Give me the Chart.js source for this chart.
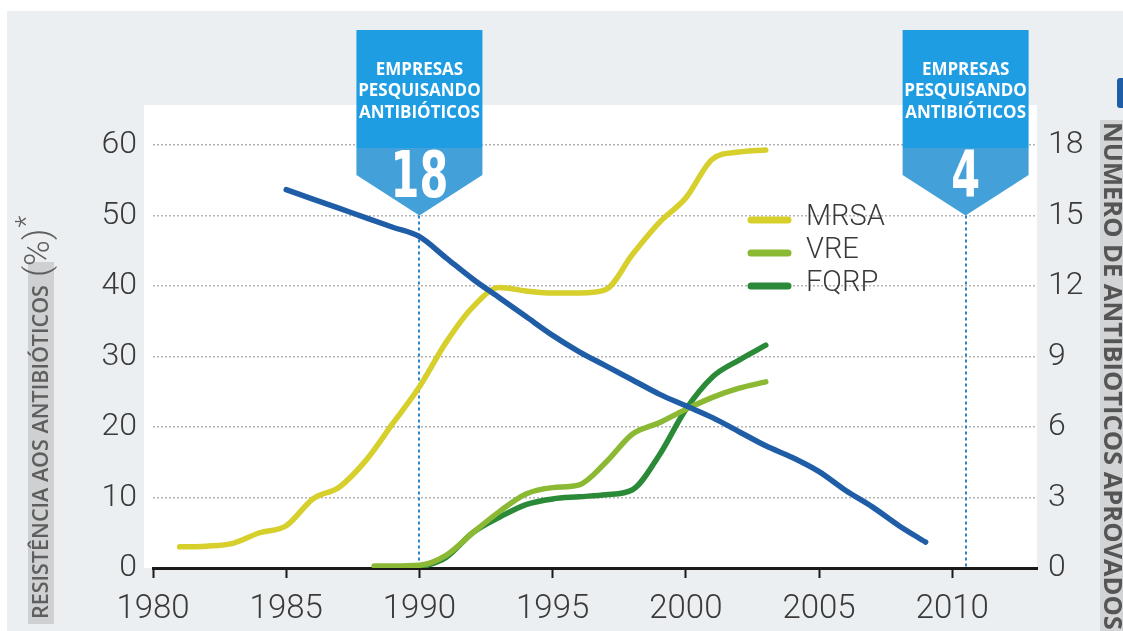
<!DOCTYPE html>
<html lang="pt">
<head>
<meta charset="utf-8">
<title>Resistência aos antibióticos</title>
<script src="https://cdn.jsdelivr.net/npm/chart.js@4.4.1/dist/chart.umd.min.js"></script>
<style>
  html, body { margin: 0; padding: 0; background: #fff; }
  canvas { display: block; }
</style>
</head>
<body>
<canvas id="chart" width="1123" height="631"></canvas>
<script>
// tick values for the three axes
const xTicks = [1980, 1985, 1990, 1995, 2000, 2005, 2010];
const pctTicks = [0, 10, 20, 30, 40, 50, 60];
const countTicks = [0, 3, 6, 9, 12, 15, 18];

// new antibiotics approved (right axis)
const approvedYears = [1985, 1986, 1987, 1988, 1989, 1990, 1991, 1992, 1993, 1994, 1995, 1996,
  1997, 1998, 1999, 2000, 2001, 2002, 2003, 2004, 2005, 2006, 2007, 2008, 2009];
const approvedCounts = [16.1, 15.7, 15.3, 14.9, 14.5, 14.1, 13.2, 12.3, 11.5, 10.7, 9.9, 9.2,
  8.6, 8.0, 7.4, 6.9, 6.4, 5.8, 5.2, 4.7, 4.1, 3.3, 2.6, 1.8, 1.1];

// resistance, % (left axis)
const mrsaYears = [1981, 1982, 1983, 1984, 1985, 1986, 1987, 1988, 1989, 1990, 1991, 1992,
  1993, 1994, 1995, 1996, 1997, 1998, 1999, 2000, 2001, 2002, 2003];
const mrsaPct = [3.0, 3.1, 3.5, 5.0, 6.0, 9.8, 11.5, 15.3, 20.5, 25.7, 32.0, 37.0,
  39.8, 39.3, 39.0, 39.0, 39.5, 44.5, 49.0, 52.5, 58.0, 59.0, 59.3];

const vreYears = [1988.3, 1989, 1990, 1991, 1992, 1993, 1994, 1995, 1996, 1997, 1998,
  1999, 2000, 2001, 2002, 2003];
const vrePct = [0.3, 0.3, 0.4, 1.8, 5.0, 8.0, 10.5, 11.4, 11.8, 15.0, 19.0,
  20.6, 22.5, 24.2, 25.5, 26.4];

const fqrpYears = [1990, 1991, 1992, 1993, 1994, 1995, 1996, 1997, 1998, 1999, 2000,
  2001, 2002, 2003];
const fqrpPct = [0, 1.5, 5.0, 7.2, 9.0, 9.8, 10.1, 10.4, 11.1, 16.0, 22.5,
  27.1, 29.5, 31.6];

// companies researching antibiotics
const calloutYears = [1990, 2010.5];
const calloutCounts = ['18', '4'];
const calloutLines = ['EMPRESAS', 'PESQUISANDO', 'ANTIBIÓTICOS'];

const LIGHT = "Roboto, 'Liberation Sans', sans-serif";
const COND = "'DejaVu Sans Condensed', 'Liberation Sans', sans-serif";
const SANS = "'Open Sans', 'Noto Sans', sans-serif";

const toPoints = (xs, ys) => xs.map((x, i) => ({ x, y: ys[i] }));

const line = (label, xs, ys, color, axis) => ({
  label,
  data: toPoints(xs, ys),
  yAxisID: axis,
  borderColor: color,
  backgroundColor: color,
  borderWidth: 5.5,
  borderCapStyle: 'round',
  borderJoinStyle: 'round',
  pointRadius: 0,
  cubicInterpolationMode: 'monotone',
  fill: false,
});

const decor = {
  id: 'decor',
  beforeDraw(chart) {
    const { ctx, chartArea: a, width, height } = chart;
    ctx.save();
    ctx.fillStyle = '#fff';
    ctx.fillRect(0, 0, width, height);
    ctx.fillStyle = '#eceff1';
    ctx.fillRect(7, 11, width - 7, height - 11);
    ctx.fillStyle = '#fff';
    ctx.fillRect(a.left - 9, 105, a.right - a.left + 9, a.bottom - 105);

    // left axis title
    ctx.fillStyle = '#cfd0d1';
    ctx.fillRect(28, 262, 26, 362);
    ctx.save();
    ctx.translate(41, 619);
    ctx.rotate(-Math.PI / 2);
    ctx.textAlign = 'left';
    ctx.textBaseline = 'middle';
    ctx.fillStyle = '#5e5e5e';
    ctx.font = `600 21.5px ${SANS}`;
    const t = 'RESISTÊNCIA AOS ANTIBIÓTICOS';
    ctx.fillText(t, 0, 1);
    const w = ctx.measureText(t).width;
    ctx.font = `300 35px ${LIGHT}`;
    ctx.fillText('(%)', w + 8, -1);
    const w2 = ctx.measureText('(%)').width;
    ctx.font = `300 28px ${LIGHT}`;
    ctx.fillText('*', w + 9 + w2, -13);
    ctx.restore();

    // right axis title, clipped by the canvas edge
    ctx.fillStyle = '#d3d4d5';
    ctx.fillRect(1100, 120, 23, height - 120);
    ctx.save();
    ctx.translate(1104, 122);
    ctx.rotate(Math.PI / 2);
    ctx.textAlign = 'left';
    ctx.textBaseline = 'alphabetic';
    ctx.fillStyle = '#555';
    ctx.font = `700 25.5px ${SANS}`;
    ctx.fillText('NÚMERO DE ANTIBIÓTICOS APROVADOS', 0, 0);
    ctx.restore();

    ctx.fillStyle = chart.data.datasets[0].borderColor;
    ctx.beginPath();
    ctx.roundRect(1117, 78, 12, 30, 3);
    ctx.fill();
    ctx.restore();
  },
  beforeDatasetsDraw(chart) {
    const { ctx, chartArea: a, scales } = chart;
    ctx.save();
    ctx.strokeStyle = '#2f86c6';
    ctx.lineWidth = 2;
    ctx.setLineDash([3, 3]);
    calloutYears.forEach(yr => {
      const cx = Math.round(scales.x.getPixelForValue(yr));
      ctx.beginPath();
      ctx.moveTo(cx, scales.y.getPixelForValue(50));
      ctx.lineTo(cx, a.bottom);
      ctx.stroke();
    });
    ctx.restore();
  },
  afterDraw(chart) {
    const { ctx, scales } = chart;
    ctx.save();
    calloutYears.forEach((yr, i) => {
      const cx = scales.x.getPixelForValue(yr);
      const tipY = scales.y.getPixelForValue(50);
      const half = 63, top = 30, split = 148, shoulder = 175;
      ctx.fillStyle = '#1e9de2';
      ctx.fillRect(cx - half, top, half * 2, split - top);
      ctx.fillStyle = '#43a0d9';
      ctx.beginPath();
      ctx.moveTo(cx - half, split);
      ctx.lineTo(cx + half, split);
      ctx.lineTo(cx + half, shoulder);
      ctx.lineTo(cx, tipY);
      ctx.lineTo(cx - half, shoulder);
      ctx.closePath();
      ctx.fill();

      ctx.fillStyle = '#fff';
      ctx.textAlign = 'center';
      ctx.textBaseline = 'middle';
      ctx.font = `700 17px ${SANS}`;
      calloutLines.forEach((s, k) => ctx.fillText(s, cx, 70 + k * 21.5));

      ctx.save();
      ctx.translate(cx, 180);
      ctx.scale(0.72, 1);
      ctx.font = `700 64px ${COND}`;
      ctx.fillText(calloutCounts[i], 0, 0);
      ctx.restore();
    });

    // legend for the resistance series
    const rows = chart.data.datasets.filter(d => d.yAxisID === 'y');
    ctx.textAlign = 'left';
    ctx.textBaseline = 'middle';
    ctx.font = `300 29px ${LIGHT}`;
    ctx.lineCap = 'round';
    ctx.lineWidth = 7;
    rows.forEach((d, k) => {
      const ry = 220 + k * 33;
      ctx.strokeStyle = d.borderColor;
      ctx.beginPath();
      ctx.moveTo(751, ry);
      ctx.lineTo(788, ry);
      ctx.stroke();
      ctx.fillStyle = '#3a3a3a';
      ctx.fillText(d.label, 806, ry - 2);
    });
    ctx.restore();
  }
};

new Chart(document.getElementById('chart'), {
  type: 'line',
  data: {
    datasets: [
      line('Antibióticos aprovados', approvedYears, approvedCounts, '#1f5ea7', 'y2'),
      line('MRSA', mrsaYears, mrsaPct, '#d6cf2c', 'y'),
      line('VRE', vreYears, vrePct, '#8cb933', 'y'),
      line('FQRP', fqrpYears, fqrpPct, '#2b8a38', 'y'),
    ]
  },
  options: {
    responsive: false,
    animation: false,
    layout: { padding: { top: 145, left: 0, right: 0, bottom: 0 } },
    plugins: { legend: { display: false }, tooltip: { enabled: false } },
    scales: {
      x: {
        type: 'linear',
        min: 1980,
        max: 2013.18,
        afterBuildTicks: s => { s.ticks = xTicks.map(v => ({ value: v })); },
        afterFit: s => { s.height = 63; },
        ticks: {
          callback: v => String(v),
          color: '#3a3a3a',
          font: { family: LIGHT, size: 33, weight: 300 },
          padding: 12,
          maxRotation: 0,
        },
        grid: { drawOnChartArea: false, drawTicks: true, tickLength: 10, tickWidth: 2, tickColor: '#1a1a1a' },
        border: { display: true, color: '#1a1a1a', width: 3 },
      },
      y: {
        position: 'left',
        min: 0,
        max: 60,
        afterBuildTicks: s => { s.ticks = pctTicks.map(v => ({ value: v })); },
        afterFit: s => { s.width = 153; },
        ticks: { color: '#3a3a3a', font: { family: LIGHT, size: 32, weight: 300 }, padding: 16 },
        grid: { color: '#b3b3b3', lineWidth: 1.5, drawTicks: false },
        border: { display: false, dash: [2, 2] },
      },
      y2: {
        position: 'right',
        min: 0,
        max: 18,
        afterBuildTicks: s => { s.ticks = countTicks.map(v => ({ value: v })); },
        afterFit: s => { s.width = 86; },
        ticks: { color: '#3a3a3a', font: { family: LIGHT, size: 32, weight: 300 }, padding: 11 },
        grid: { drawOnChartArea: false, drawTicks: false },
        border: { display: false },
      },
    },
  },
  plugins: [decor],
});
</script>
</body>
</html>
